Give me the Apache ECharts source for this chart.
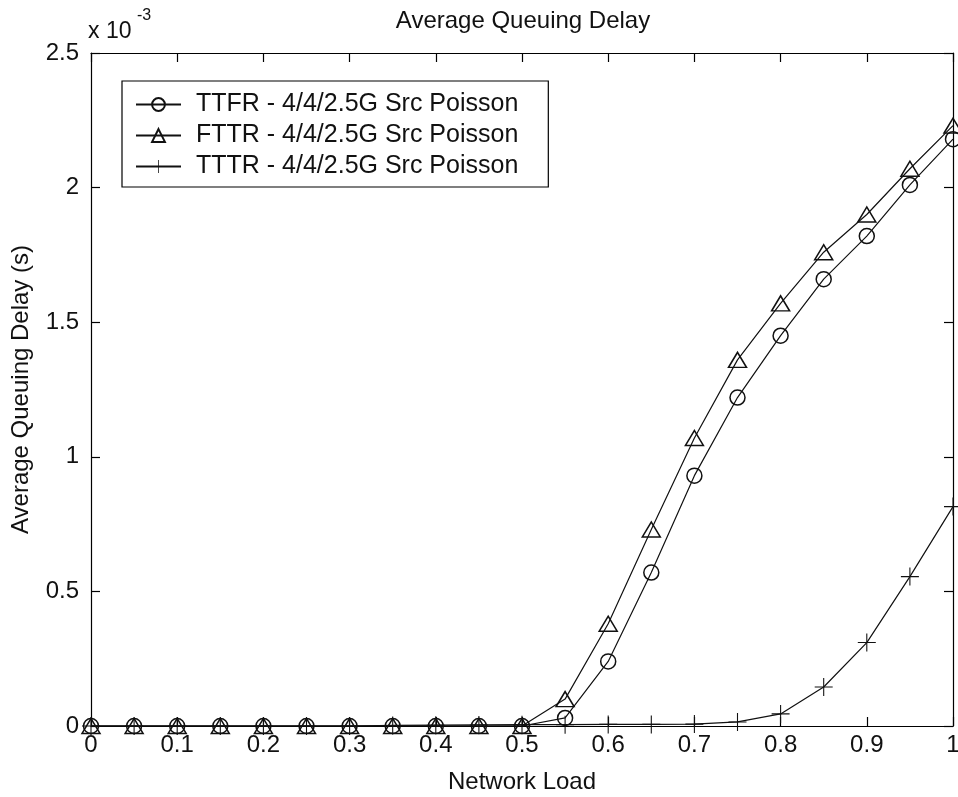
<!DOCTYPE html>
<html><head><meta charset="utf-8">
<script src="https://cdn.jsdelivr.net/npm/echarts@6/dist/echarts.min.js"></script>
<style>html,body{margin:0;padding:0;background:#fff}#c{width:958px;height:797px}</style>
</head><body><div id="c"></div>
<script>
const loads = [0,0.05,0.1,0.15,0.2,0.25,0.3,0.35,0.4,0.45,0.5,0.55,0.6,0.65,0.7,0.75,0.8,0.85,0.9,0.95,1.0];
const ttfr = [0,0,0,0,0,0,0,0,0,0,0,0.03,0.24,0.57,0.93,1.22,1.45,1.66,1.82,2.01,2.18];
const fttr = [0,0,0,0,0,0,0,0,0,0,0,0.10,0.38,0.73,1.07,1.36,1.57,1.76,1.90,2.07,2.23];
const tttr = [0,0,0,0,0,0,0,0.002,0.003,0.004,0.005,0.005,0.006,0.006,0.007,0.015,0.045,0.145,0.31,0.555,0.815];
const seriesNames = ['TTFR - 4/4/2.5G Src Poisson','FTTR - 4/4/2.5G Src Poisson','TTTR - 4/4/2.5G Src Poisson'];
const yTicks = ['0','0.5','1','1.5','2','2.5'];

const FONT = "'Liberation Sans',Arial,sans-serif";
const pair = arr => arr.map((v,i)=>[loads[i], v]);
const plusPath = 'path://M-0.6,-10L0.6,-10L0.6,-0.6L10,-0.6L10,0.6L0.6,0.6L0.6,10L-0.6,10L-0.6,0.6L-10,0.6L-10,-0.6L-0.6,-0.6Z';

const chart = echarts.init(document.getElementById('c'), null, {renderer:'canvas'});
const axCommon = () => ({
  min:0, axisLine:{show:true, onZero:false, lineStyle:{color:'#000', width:1.2}},
  axisTick:{show:true, inside:true, length:9, lineStyle:{color:'#000', width:1.2}},
  splitLine:{show:false}
});
chart.setOption({
  backgroundColor:'#fff',
  animation:false,
  title:{text:'Average Queuing Delay', left:518, top:4, textAlign:'center',
    textStyle:{fontFamily:FONT, fontWeight:'normal', fontSize:24, color:'#111'}},
  grid:{left:91, right:5, top:53, bottom:71, containLabel:false, outerBoundsMode:'none'},
  legend:{
    left:122, top:81, orient:'vertical', itemGap:6, itemWidth:45, itemHeight:16,
    padding:[11,30,8,13], borderColor:'#000', borderWidth:1.2, backgroundColor:'#fff',
    textStyle:{fontFamily:FONT, fontSize:25, lineHeight:25, color:'#111', padding:[0,0,0,10]},
    data:seriesNames
  },
  xAxis:[
    Object.assign(axCommon(), {type:'value', max:1, interval:0.1, position:'bottom',
      name:'Network Load', nameLocation:'middle', nameGap:44,
      nameTextStyle:{fontFamily:FONT, fontSize:24, color:'#111'},
      axisLabel:{fontFamily:FONT, fontSize:24, color:'#111', margin:7,
        formatter:v=>String(+v.toFixed(2))}}),
    Object.assign(axCommon(), {type:'value', max:1, interval:0.1, position:'top', axisLabel:{show:false}})
  ],
  yAxis:[
    Object.assign(axCommon(), {type:'value', max:2.5, interval:0.5, position:'left',
      name:'Average Queuing Delay (s)', nameLocation:'middle', nameGap:58, nameRotate:90,
      nameTextStyle:{fontFamily:FONT, fontSize:24, color:'#111'},
      axisLabel:{fontFamily:FONT, fontSize:24, color:'#111', margin:12,
        formatter:(v)=>yTicks[Math.round(v/0.5)]}}),
    Object.assign(axCommon(), {type:'value', max:2.5, interval:0.5, position:'right', axisLabel:{show:false}})
  ],
  graphic:[
    {type:'text', left:88, top:20, style:{text:'x 10', fontFamily:FONT, fontSize:23, fill:'#111'}},
    {type:'text', left:137, top:8, style:{text:'-3', fontFamily:FONT, fontSize:16, fill:'#111'}}
  ],
  series:[
    {name:seriesNames[0], type:'line', xAxisIndex:0, yAxisIndex:0, data:pair(ttfr),
      symbol:'circle', symbolSize:15, showAllSymbol:true,
      lineStyle:{color:'#111', width:1.2},
      itemStyle:{color:'rgba(255,255,255,0)', borderColor:'#111', borderWidth:1.5}},
    {name:seriesNames[1], type:'line', xAxisIndex:0, yAxisIndex:0, data:pair(fttr),
      symbol:'triangle', symbolSize:[18,15], showAllSymbol:true,
      lineStyle:{color:'#111', width:1.2},
      itemStyle:{color:'rgba(255,255,255,0)', borderColor:'#111', borderWidth:1.5}},
    {name:seriesNames[2], type:'line', xAxisIndex:0, yAxisIndex:0, data:pair(tttr),
      symbol:plusPath, symbolSize:18, showAllSymbol:true,
      lineStyle:{color:'#111', width:1.2},
      itemStyle:{color:'#111', borderWidth:0}}
  ]
});
</script></body></html>
